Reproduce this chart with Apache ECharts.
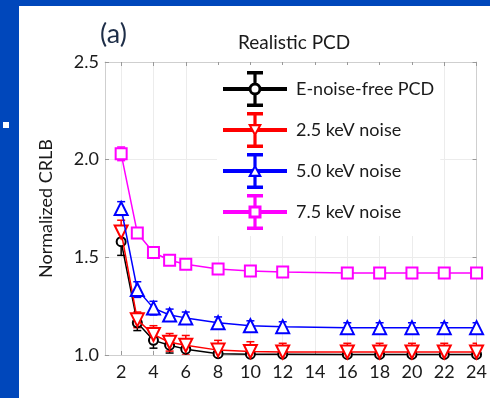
<!DOCTYPE html>
<html>
<head>
<meta charset="utf-8">
<script src="https://cdn.jsdelivr.net/npm/echarts@6/dist/echarts.min.js"></script>
<style>
html, body { margin: 0; padding: 0; background: #0047bb; overflow: hidden; }
#panel { position: absolute; left: 19px; top: 6px; width: 471px; height: 392px; background: #fff; }
#dot { position: absolute; left: 3px; top: 122px; width: 6px; height: 6px; background: #fff; }
#chart { position: absolute; left: 0; top: 0; width: 490px; height: 398px; }
</style>
</head>
<body>
<div id="panel"></div>
<div id="dot"></div>
<div id="chart"></div>
<script>
// number of energy bins
const binCounts = [2, 3, 4, 5, 6, 8, 10, 12, 16, 18, 20, 22, 24];
const xTicks = [2, 4, 6, 8, 10, 12, 14, 16, 18, 20, 22, 24];

const seriesNames = ['E-noise-free PCD', '2.5 keV noise', '5.0 keV noise', '7.5 keV noise'];
const seriesColors = ['#000000', '#ff0000', '#0000ff', '#ff00ff'];

const noiseFree    = [1.58, 1.165, 1.075, 1.05, 1.03, 1.007, 1.004, 1.004, 1.003, 1.003, 1.003, 1.003, 1.003];
const noiseFreeErr = [0.07, 0.04, 0.04, 0.04, 0.035, 0.03, 0.03, 0.03, 0.03, 0.03, 0.03, 0.03, 0.03];
const noise25      = [1.63, 1.18, 1.105, 1.065, 1.05, 1.025, 1.018, 1.015, 1.015, 1.015, 1.015, 1.015, 1.015];
const noise25Err   = [0.06, 0.04, 0.045, 0.045, 0.05, 0.05, 0.05, 0.045, 0.045, 0.045, 0.045, 0.045, 0.045];
const noise50      = [1.75, 1.335, 1.24, 1.205, 1.19, 1.165, 1.15, 1.145, 1.14, 1.14, 1.14, 1.14, 1.14];
const noise50Err   = [0.035, 0.04, 0.035, 0.03, 0.03, 0.03, 0.025, 0.025, 0.025, 0.025, 0.025, 0.025, 0.025];
const noise75      = [2.03, 1.625, 1.525, 1.485, 1.465, 1.44, 1.43, 1.425, 1.42, 1.42, 1.42, 1.42, 1.42];
const noise75Err   = [0.035, 0.012, 0.012, 0.01, 0.01, 0.01, 0.01, 0.01, 0.01, 0.01, 0.01, 0.01, 0.01];

const values = [noiseFree, noise25, noise50, noise75];
const errors = [noiseFreeErr, noise25Err, noise50Err, noise75Err];
const markers = [
    { symbol: 'emptyCircle', size: 9, rotate: 0 },
    { symbol: 'emptyTriangle', size: 13, rotate: 180 },
    { symbol: 'emptyTriangle', size: 13, rotate: 0 },
    { symbol: 'emptyRect', size: 11, rotate: 0 }
];

const FONT = 'Lato';

// legend icon helpers (icon box is 64 x 36)
function rect(x0, y0, x1, y1) {
    return `M${x0} ${y0}H${x1}V${y1}H${x0}Z`;
}
function poly(pts) {
    return 'M' + pts.map(p => p[0] + ' ' + p[1]).join('L') + 'Z';
}
function shrink(pts, k) {
    const c = [0, 1].map(i => pts.reduce((s, p) => s + p[i], 0) / pts.length);
    return pts.map(p => [c[0] + (p[0] - c[0]) * k, c[1] + (p[1] - c[1]) * k]).reverse();
}
function legendIcon(kind) {
    const cx = 32, cy = 18;
    let ring, hx, top, bot;
    if (kind === 'circle') {
        const r = 6.5, ri = 3.5;
        ring = `M${cx - r} ${cy}A${r} ${r} 0 1 1 ${cx + r} ${cy}A${r} ${r} 0 1 1 ${cx - r} ${cy}Z` +
               `M${cx - ri} ${cy}A${ri} ${ri} 0 1 0 ${cx + ri} ${cy}A${ri} ${ri} 0 1 0 ${cx - ri} ${cy}Z`;
        hx = 5.5; top = cy - 5.5; bot = cy + 5.5;
    } else if (kind === 'down') {
        const o = [[cx - 7, cy - 6], [cx + 7, cy - 6], [cx, cy + 7]];
        ring = poly(o) + poly(shrink(o, 0.5));
        hx = 2.8; top = cy - 5; bot = cy + 4;
    } else if (kind === 'up') {
        const o = [[cx, cy - 7], [cx + 7, cy + 6], [cx - 7, cy + 6]];
        ring = poly(o) + poly(shrink(o, 0.5));
        hx = 2.8; top = cy - 4; bot = cy + 5;
    } else {
        const h = 6.5, hi = 3.5;
        ring = rect(cx - h, cy - h, cx + h, cy + h) +
               `M${cx - hi} ${cy - hi}V${cy + hi}H${cx + hi}V${cy - hi}Z`;
        hx = 5.5; top = cy - 5.5; bot = cy + 5.5;
    }
    const bars = rect(0, cy - 2, cx - hx, cy + 2) + rect(cx + hx, cy - 2, 64, cy + 2) +
                 rect(cx - 1.6, 0, cx + 1.6, top) + rect(cx - 1.6, bot, cx + 1.6, 36) +
                 rect(cx - 8, 0, cx + 8, 3.5) + rect(cx - 8, 32.5, cx + 8, 36);
    return 'path://' + bars + ring;
}
const iconKinds = ['circle', 'down', 'up', 'square'];

function renderErrorBar(params, api) {
    const x = api.value(0);
    const lo = api.coord([x, api.value(1)]);
    const hi = api.coord([x, api.value(2)]);
    const half = 4;
    const style = { stroke: api.visual('color'), lineWidth: 1.5 };
    return {
        type: 'group',
        children: [
            { type: 'line', shape: { x1: lo[0], y1: lo[1], x2: hi[0], y2: hi[1] }, style: style },
            { type: 'line', shape: { x1: lo[0] - half, y1: lo[1], x2: lo[0] + half, y2: lo[1] }, style: style },
            { type: 'line', shape: { x1: hi[0] - half, y1: hi[1], x2: hi[0] + half, y2: hi[1] }, style: style }
        ]
    };
}

const lineSeries = seriesNames.map((name, i) => ({
    name: name,
    type: 'line',
    data: binCounts.map((x, j) => [x, values[i][j]]),
    symbol: markers[i].symbol,
    symbolSize: markers[i].size,
    symbolRotate: markers[i].rotate,
    itemStyle: { color: seriesColors[i], borderWidth: 1.5 },
    lineStyle: { color: seriesColors[i], width: 1.5 },
    z: 3 + i
}));

const errorSeries = seriesNames.map((name, i) => ({
    name: 'err-' + i,
    type: 'custom',
    renderItem: renderErrorBar,
    data: binCounts.map((x, j) => [x, values[i][j] - errors[i][j], values[i][j] + errors[i][j]]),
    itemStyle: { color: seriesColors[i] },
    clip: true,
    z: 2
}));

const chart = echarts.init(document.getElementById('chart'));

const boxAxisX = {
    min: 1, max: 24,
    axisLine: { show: true, lineStyle: { color: '#cfcfcf', width: 1 } },
    axisTick: { show: true, inside: true, length: 4, customValues: xTicks, lineStyle: { color: '#999' } }
};
const boxAxisY = {
    min: 1, max: 2.5, interval: 0.5,
    axisLine: { show: true, lineStyle: { color: '#cfcfcf', width: 1 } },
    axisTick: { show: true, inside: true, length: 4, lineStyle: { color: '#999' } }
};

chart.setOption({
    animation: false,
    title: [
        {
            text: 'Realistic PCD',
            left: 233, top: 28,
            textStyle: { fontFamily: FONT, fontSize: 19, fontWeight: 'normal', color: '#1a1a1a' }
        },
        {
            text: '(a)',
            left: 95, top: 16,
            textStyle: { fontFamily: FONT, fontSize: 27, fontWeight: 'normal', color: '#1e2e48' }
        }
    ],
    grid: { left: 105, right: 13, top: 62, bottom: 43 },
    legend: {
        orient: 'vertical',
        left: 217, top: 65,
        padding: 6,
        backgroundColor: '#fff',
        itemWidth: 64,
        itemHeight: 36,
        itemGap: 5,
        selectedMode: false,
        textStyle: { fontFamily: FONT, fontSize: 18, color: '#1a1a1a', padding: [0, 0, 0, 4] },
        data: seriesNames.map((name, i) => ({
            name: name,
            icon: legendIcon(iconKinds[i]),
            itemStyle: { color: seriesColors[i], borderWidth: 0 }
        }))
    },
    xAxis: [
        Object.assign({}, boxAxisX, {
            type: 'value',
            position: 'bottom',
            axisLabel: {
                customValues: xTicks, margin: 8,
                fontFamily: FONT, fontSize: 18, color: '#1a1a1a'
            },
            splitLine: { show: true, lineStyle: { color: '#ececec', width: 1 } }
        }),
        Object.assign({}, boxAxisX, {
            type: 'value',
            position: 'top',
            axisLabel: { show: false },
            splitLine: { show: false }
        })
    ],
    yAxis: [
        Object.assign({}, boxAxisY, {
            type: 'value',
            position: 'left',
            name: 'Normalized CRLB',
            nameLocation: 'middle',
            nameGap: 50,
            nameTextStyle: { fontFamily: FONT, fontSize: 18, color: '#1a1a1a' },
            axisLabel: {
                margin: 6,
                formatter: v => v.toFixed(1),
                fontFamily: FONT, fontSize: 18, color: '#1a1a1a'
            },
            splitLine: { show: true, lineStyle: { color: '#ececec', width: 1 } }
        }),
        Object.assign({}, boxAxisY, {
            type: 'value',
            position: 'right',
            axisLabel: { show: false },
            splitLine: { show: false }
        })
    ],
    series: errorSeries.concat(lineSeries)
});
</script>
</body>
</html>
